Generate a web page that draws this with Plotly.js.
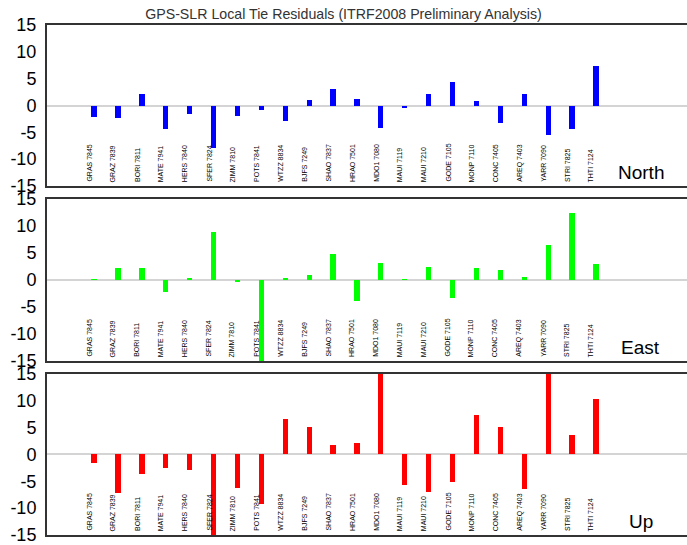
<!DOCTYPE html>
<html>
<head>
<meta charset="utf-8">
<script src="https://cdn.plot.ly/plotly-3.0.1.min.js"></script>
<style>html,body{margin:0;padding:0;background:#fff;}#chart{width:687px;height:545px;}</style>
</head>
<body>
<div id="chart"></div>
<script>
const stations = ["GRAS 7845","GRAZ 7839","BORI 7811","MATE 7941","HERS 7840","SFER 7824","ZIMM 7810","POTS 7841","WTZZ 8834","BJFS 7249","SHAO 7837","HRAO 7501","MDO1 7080","MAUI 7119","MAUI 7210","GODE 7105","MONP 7110","CONC 7405","AREQ 7403","YARR 7090","STRI 7825","THTI 7124"];
const north = [-2.2,-2.4,2.2,-4.35,-1.55,-7.9,-2.0,-0.8,-2.8,1.0,3.0,1.3,-4.1,-0.4,2.1,4.3,0.8,-3.2,2.1,-5.5,-4.4,7.3];
const east  = [0.2,2.3,2.2,-2.3,0.4,8.95,-0.4,-16,0.4,0.9,4.9,-3.95,3.2,0.2,2.5,-3.4,2.3,1.85,0.5,6.5,12.5,3.0];
const up    = [-1.6,-7.1,-3.55,-2.55,-2.9,-17,-6.3,-9.3,6.7,5.2,1.7,2.05,16,-5.6,-7.0,-5.2,7.3,5.2,-6.35,16,3.7,10.4];
const panelNames = ["North","East","Up"];
const colors = ["#0000ff","#00ff00","#ff0000"];
const yTicks = [-15,-10,-5,0,5,10,15];
const titleText = "GPS-SLR Local Tie Residuals (ITRF2008 Preliminary Analysis)";

const series = [north, east, up];
const domains = [[0.6843,1.0],[0.3412,0.6588],[0.0,0.3157]];
const font = "Liberation Sans, Arial, Helvetica, sans-serif";

const traces = series.map((vals, i) => ({
  type: "bar",
  x: stations,
  y: vals,
  width: 0.22,
  marker: {color: colors[i], line: {width: 0}},
  xaxis: i === 0 ? "x" : "x" + (i + 1),
  yaxis: i === 0 ? "y" : "y" + (i + 1),
  showlegend: false,
  hoverinfo: "x+y"
}));

const layout = {
  width: 687, height: 545,
  margin: {l: 47, r: 0, t: 25, b: 10},
  paper_bgcolor: "#fff", plot_bgcolor: "#fff",
  bargap: 0,
  title: {text: titleText, x: 0.5, xanchor: "center", y: 0.974, yanchor: "middle",
          font: {family: font, size: 14.2, color: "#333"}},
  annotations: []
};

for (let i = 0; i < 3; i++) {
  const xa = i === 0 ? "xaxis" : "xaxis" + (i + 1);
  const ya = i === 0 ? "yaxis" : "yaxis" + (i + 1);
  const yref = i === 0 ? "y" : "y" + (i + 1);
  const xref = i === 0 ? "x" : "x" + (i + 1);
  layout[xa] = {
    type: "category", categoryorder: "array", categoryarray: stations,
    range: [-1.97, 24.81], domain: [0, 1], anchor: yref,
    showline: true, mirror: true, linecolor: "#333", linewidth: 2,
    showticklabels: false, ticks: "", showgrid: false, zeroline: false, fixedrange: true
  };
  layout[ya] = {
    range: [-15, 15], domain: domains[i], anchor: xref,
    tickvals: yTicks, ticktext: yTicks.map(String),
    tickfont: {family: font, size: 18, color: "#000"},
    ticks: "", ticklabelstandoff: 5, ticklabeloverflow: "allow",
    showline: true, mirror: false, linecolor: "#333", linewidth: 2,
    showgrid: false, zeroline: true, zerolinecolor: "#d4d4d4", zerolinewidth: 2, fixedrange: true
  };
  stations.forEach(s => {
    layout.annotations.push({
      x: s, y: -15, xref: xref, yref: yref,
      text: s, textangle: -90, showarrow: false,
      xanchor: "center", yanchor: "bottom", xshift: -5, yshift: 2,
      font: {family: font, size: 7, color: "#000"}
    });
  });
  layout.annotations.push({
    x: 0.928, y: domains[i][0], xref: "paper", yref: "paper",
    text: panelNames[i], showarrow: false, xanchor: "center", yanchor: "bottom", yshift: 1,
    font: {family: font, size: 19, color: "#000"}
  });
}

Plotly.newPlot("chart", traces, layout, {displayModeBar: false, staticPlot: true});
</script>
</body>
</html>
